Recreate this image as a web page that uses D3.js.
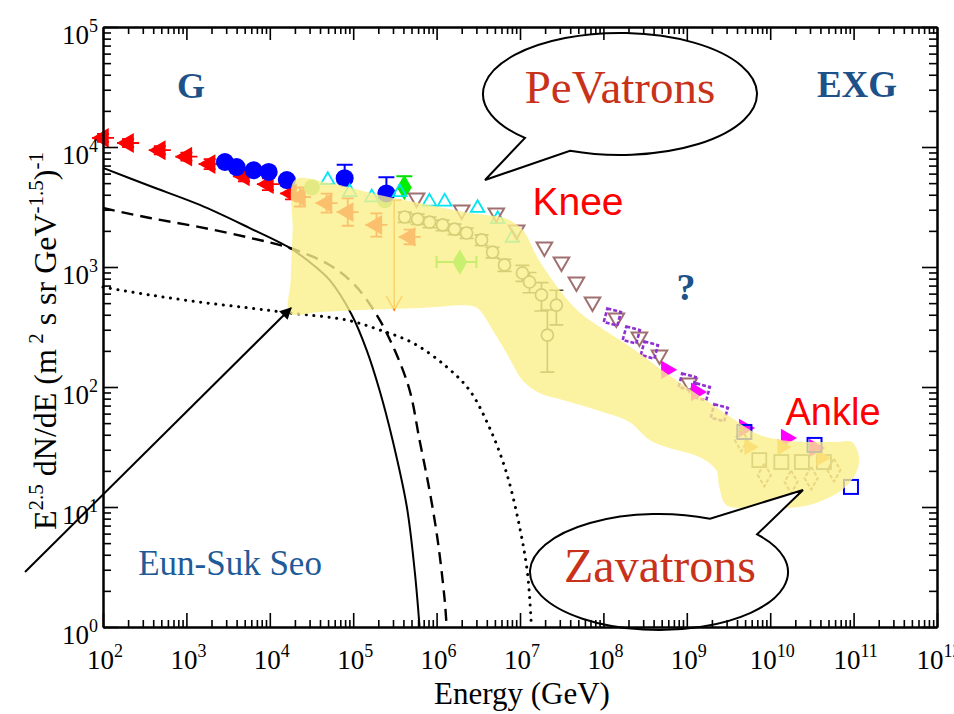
<!DOCTYPE html>
<html>
<head>
<meta charset="utf-8">
<script src="https://cdn.jsdelivr.net/npm/d3@7"></script>
<style>
  body { margin: 0; background: #fff; }
  svg { display: block; }
  .ax .domain { stroke: #000; stroke-width: 2; }
  .ax .tick line { stroke: #000; stroke-width: 1.6; }
</style>
</head>
<body>
<div id="chart"></div>
<script>
// ---- data (energy in GeV, flux E^2.5 dN/dE) ----
var redE = [1.0e2, 2.0e2, 4.8e2, 1.0e3, 1.9e3, 4.9e3, 9.5e3, 1.8e4, 2.3e4, 4.8e4, 8.6e4, 1.9e5, 4.75e5];
var redF = [1.19e4, 1.08e4, 9.4e3, 8.3e3, 7.2e3, 5.7e3, 4.9e3, 4.1e3, 3.83e3, 3.41e3, 2.87e3, 2.24e3, 1.78e3];
var redErr = [0.08, 0.08, 0.08, 0.08, 0.1, 0.1, 0.12, 0.12, 0.2, 0.2, 0.3, 0.25, 0.15];
var limitE = [3.1e5];
var limitF = [3.6e3];
var limitTo = [4.4e2];

var blueE = [2.9e3, 4.0e3, 6.4e3, 9.7e3, 1.6e4, 7.9e4, 2.5e5];
var blueF = [7.5e3, 6.8e3, 6.4e3, 6.2e3, 5.3e3, 5.5e3, 4.1e3];
var blueHi = [null, null, null, null, null, 7.1e3, 5.6e3];

var greenE = [4.1e5, 1.9e6];
var greenF = [4.6e3, 1.1e3];
var greenHi = [5.7e3, null];
var greenXLo = [null, 1.0e6];
var greenXHi = [null, 3.0e6];

var limeE = [3.2e4, 2.4e5];
var limeF = [4.6e3, 3.6e3];

var cyanE = [4.95e4, 9.1e4, 1.67e5, 3.6e5, 8.2e5, 1.25e6, 3.1e6, 5.4e6, 8.1e6];
var cyanF = [5.3e3, 4.2e3, 3.8e3, 4.2e3, 3.5e3, 3.5e3, 3.1e3, 2.5e3, 1.75e3];

var brownE = [5.75e5, 2.0e6, 5.2e6, 9.1e6, 1.96e7, 3.14e7, 4.75e7, 7.4e7, 1.43e8, 2.7e8, 4.7e8, 1.07e9];
var brownF = [3760, 2990, 2820, 2030, 1470, 1100, 750, 511, 376, 261, 185, 108];

var grayE = [4.14e5, 5.92e5, 8.24e5, 1.18e6, 1.64e6, 2.29e6, 3.46e6, 4.69e6, 6.52e6, 1.07e7, 1.3e7, 1.81e7, 2.73e7, 2.13e7];
var grayF = [2610, 2510, 2370, 2240, 2070, 1920, 1680, 1330, 1040, 891, 750, 585, 482, 271];
var grayLo = [2350, 2260, 2130, 2010, 1860, 1730, 1510, 1190, 920, 760, 610, 430, 330, 133];
var grayHi = [2870, 2760, 2610, 2460, 2280, 2110, 1850, 1460, 1160, 1030, 900, 740, 640, 438];

var purpleE = [1.28e8, 2.16e8, 3.56e8, 1.01e9, 1.49e9, 2.45e9];
var purpleF = [383, 271, 203, 110, 91, 61];

var magentaE = [5.7e8, 1.3e9, 4.9e9, 1.56e10, 3.4e10];
var magentaF = [139, 91, 45.5, 37.6, 31];

var squareE = [4.9e9, 3.4e10, 9.3e10];
var squareF = [42.2, 32.9, 14.7];

var ankleSqE = [7.4e9, 1.36e10, 2.4e10, 4.4e10];
var ankleSqF = [24.6, 23.7, 23.7, 23.7];
var ankleDiaE = [4.5e9, 8.5e9, 1.78e10, 3.1e10, 5.8e10];
var ankleDiaF = [36.2, 18.5, 16.2, 17.4, 20.3];
var orangeE = [5.6e9, 1.39e10, 4.1e10];
var orangeF = [31.6, 31.6, 25.6];

// model curves
var solidE = [1e2, 3.66e2, 1.45e3, 5.75e3, 1.74e4, 3.0e4, 5.2e4, 9.6e4, 1.45e5, 2.07e5, 2.97e5, 4.4e5, 5.5e5, 6.25e5];
var solidF = [6700, 4730, 3290, 2110, 1440, 1100, 780, 400, 203, 94, 36, 10, 2.8, 1];
var dashedE = [1e2, 3.66e2, 1.45e3, 5.75e3, 1.74e4, 5.2e4, 1.04e5, 1.91e5, 3.14e5, 4.75e5, 6.25e5, 8.2e5, 1.03e6, 1.25e6, 1.32e6];
var dashedF = [3100, 2560, 2150, 1750, 1440, 1040, 710, 400, 203, 94, 36, 13.9, 5.3, 1.68, 1];
var dottedE = [1e2, 3.66e2, 1.45e3, 5.75e3, 1.74e4, 8.4e4, 2.07e5, 5.2e5, 1.32e6, 2.48e6, 4.3e6, 6.9e6, 9.9e6, 1.23e7, 1.37e7];
var dottedF = [680, 585, 510, 455, 414, 361, 299, 233, 147, 94, 46, 19.2, 6.8, 2.8, 1];

// highlighted (yellow) region outline
var bandE = [1.99e4, 5.24e4, 2.07e5, 8.24e5, 2.48e6, 6.5e6, 9.3e6, 1.13e7, 1.71e7, 3.23e7, 5.16e7, 1.09e8,
    2.48e8, 5.68e8, 1.3e9, 3.51e9, 7.38e9, 1.39e10, 2.93e10, 6.17e10, 9.6e10, 1.16e11, 1.07e11, 7.28e10,
    3.56e10, 1.69e10, 5.61e9, 2.97e9, 2.45e9, 2.25e9, 1.41e9, 6.17e8, 3.56e8, 2.05e8, 8.24e7, 3.23e7,
    1.71e7, 1.07e7, 6.89e6, 4.69e6, 3.27e6, 2.7e6, 6.25e5, 1.2e5, 3.97e4, 1.74e4, 1.78e4, 1.88e4];
var bandF = [5310, 5010, 3980, 3290, 2820, 2560, 2240, 1960, 1120, 600, 420, 290,
    200, 130, 88, 55, 40, 36, 34.8, 34.8, 34.8, 26.1, 19.2, 13.9,
    10.8, 9.8, 9.8, 10.4, 14.7, 20.3, 26.1, 31.0, 36.2, 51.1, 64.3, 78.0,
    89.1, 114, 192, 299, 438, 473, 455, 438, 422, 414, 780, 2030];

var xPowers = [2, 3, 4, 5, 6, 7, 8, 9, 10, 11, 12];
var yPowers = [0, 1, 2, 3, 4, 5];

// ---- drawing ----
var width = 954, height = 714;
var serif = "'Liberation Serif', 'Times New Roman', serif";
var sans = "'Liberation Sans', Arial, sans-serif";

var x = d3.scaleLog().domain([1e2, 1e12]).range([103, 937]);
var y = d3.scaleLog().domain([1, 1e5]).range([627, 27]);

var svg = d3.select('#chart').append('svg')
    .attr('width', width)
    .attr('height', height);

svg.append('rect').attr('width', width).attr('height', height).attr('fill', '#fff');

var zip = function (a, b) {
    return a.map(function (v, i) { return [v, b[i]]; });
};

var plot = svg.append('g');

// curves
var line = d3.line()
    .x(function (d) { return x(d[0]); })
    .y(function (d) { return y(d[1]); })
    .curve(d3.curveCatmullRom.alpha(0.5));

plot.append('path').datum(zip(solidE, solidF))
    .attr('d', line).attr('fill', 'none').attr('stroke', '#000').attr('stroke-width', 2);
plot.append('path').datum(zip(dashedE, dashedF))
    .attr('d', line).attr('fill', 'none').attr('stroke', '#000').attr('stroke-width', 2.4)
    .attr('stroke-dasharray', '12,7');
plot.append('path').datum(zip(dottedE, dottedF))
    .attr('d', line).attr('fill', 'none').attr('stroke', '#000').attr('stroke-width', 3)
    .attr('stroke-linecap', 'round').attr('stroke-dasharray', '0.1,7.5');

var sym = function (type, size) {
    return d3.symbol().type(type).size(size)();
};

// gray open circles with error bars
var grayData = grayE.map(function (e, i) { return { e: e, f: grayF[i], lo: grayLo[i], hi: grayHi[i] }; });
var gg = plot.append('g').attr('stroke', '#4a4a30').attr('stroke-width', 1.7).attr('fill', 'none');
gg.selectAll('.eb').data(grayData).enter().append('path')
    .attr('d', function (d) {
        var cx = x(d.e);
        return 'M' + cx + ',' + y(d.hi) + 'V' + y(d.lo) +
            'M' + (cx - 7) + ',' + y(d.hi) + 'H' + (cx + 7) +
            'M' + (cx - 7) + ',' + y(d.lo) + 'H' + (cx + 7);
    });
gg.selectAll('circle').data(grayData).enter().append('circle')
    .attr('cx', function (d) { return x(d.e); })
    .attr('cy', function (d) { return y(d.f); })
    .attr('r', 6).attr('fill', '#fff');

// red left triangles with error bars
var redData = redE.map(function (e, i) { return { e: e, f: redF[i], err: redErr[i] }; });
var rg = plot.append('g');
rg.selectAll('path.eb').data(redData).enter().append('path')
    .attr('stroke', '#ff0000').attr('stroke-width', 1.8).attr('fill', 'none')
    .attr('d', function (d) {
        var cx = x(d.e), hi = y(d.f * (1 + d.err)), lo = y(d.f / (1 + d.err));
        return 'M' + cx + ',' + hi + 'V' + lo +
            'M' + (cx - 6) + ',' + hi + 'H' + (cx + 6) +
            'M' + (cx - 6) + ',' + lo + 'H' + (cx + 6) +
            'M' + (cx - 11) + ',' + y(d.f) + 'H' + (cx + 11);
    });
rg.selectAll('path.m').data(redData).enter().append('path')
    .attr('d', sym(d3.symbolTriangle, 170))
    .attr('transform', function (d) { return 'translate(' + x(d.e) + ',' + y(d.f) + ') rotate(-90)'; })
    .attr('fill', '#ff0000');
// upper limit arrow
limitE.forEach(function (e, i) {
    var cx = x(e), y0 = y(limitF[i]), y1 = y(limitTo[i]);
    rg.append('path')
        .attr('d', 'M' + cx + ',' + y0 + 'V' + y1 + 'M' + (cx - 8) + ',' + (y1 - 14) + 'L' + cx + ',' + y1 + 'L' + (cx + 8) + ',' + (y1 - 14) +
            'M' + (cx - 7) + ',' + y0 + 'H' + (cx + 7))
        .attr('stroke', '#ff6a00').attr('stroke-width', 1.6).attr('fill', 'none');
});

// lime circles
plot.selectAll('.lime').data(zip(limeE, limeF)).enter().append('circle')
    .attr('cx', function (d) { return x(d[0]); })
    .attr('cy', function (d) { return y(d[1]); })
    .attr('r', 8).attr('fill', '#8ccf6a');

// blue filled circles
var blueData = blueE.map(function (e, i) { return { e: e, f: blueF[i], hi: blueHi[i] }; });
plot.selectAll('.beb').data(blueData.filter(function (d) { return d.hi; })).enter().append('path')
    .attr('d', function (d) {
        var cx = x(d.e);
        return 'M' + cx + ',' + y(d.f) + 'V' + y(d.hi) + 'M' + (cx - 8) + ',' + y(d.hi) + 'H' + (cx + 8);
    })
    .attr('stroke', '#0000ff').attr('stroke-width', 2).attr('fill', 'none');
plot.selectAll('.blue').data(blueData).enter().append('circle')
    .attr('cx', function (d) { return x(d.e); })
    .attr('cy', function (d) { return y(d.f); })
    .attr('r', 9).attr('fill', '#0000ff');

// green diamonds
var greenData = greenE.map(function (e, i) {
    return { e: e, f: greenF[i], hi: greenHi[i], xlo: greenXLo[i], xhi: greenXHi[i] };
});
plot.selectAll('.geb').data(greenData).enter().append('path')
    .attr('d', function (d) {
        var cx = x(d.e), cy = y(d.f), s = '';
        if (d.hi) s += 'M' + cx + ',' + cy + 'V' + y(d.hi) + 'M' + (cx - 8) + ',' + y(d.hi) + 'H' + (cx + 8);
        if (d.xlo) s += 'M' + x(d.xlo) + ',' + cy + 'H' + x(d.xhi) +
            'M' + x(d.xlo) + ',' + (cy - 6) + 'V' + (cy + 6) + 'M' + x(d.xhi) + ',' + (cy - 6) + 'V' + (cy + 6);
        return s;
    })
    .attr('stroke', '#00dd00').attr('stroke-width', 2).attr('fill', 'none');
plot.selectAll('.green').data(greenData).enter().append('path')
    .attr('d', sym(d3.symbolDiamond, 190))
    .attr('transform', function (d) { return 'translate(' + x(d.e) + ',' + y(d.f) + ')'; })
    .attr('fill', '#00ee00');

// cyan open triangles
plot.selectAll('.cyan').data(zip(cyanE, cyanF)).enter().append('path')
    .attr('d', sym(d3.symbolTriangle, 80))
    .attr('transform', function (d) { return 'translate(' + x(d[0]) + ',' + y(d[1]) + ')'; })
    .attr('fill', 'none').attr('stroke', '#00e5f0').attr('stroke-width', 1.8);

// brown open down triangles
plot.selectAll('.brown').data(zip(brownE, brownF)).enter().append('path')
    .attr('d', sym(d3.symbolTriangle, 105))
    .attr('transform', function (d) { return 'translate(' + x(d[0]) + ',' + y(d[1]) + ') rotate(180)'; })
    .attr('fill', 'none').attr('stroke', '#a07070').attr('stroke-width', 2);

// purple dashed squares
plot.selectAll('.purple').data(zip(purpleE, purpleF)).enter().append('rect')
    .attr('x', function (d) { return x(d[0]) - 7; })
    .attr('y', function (d) { return y(d[1]) - 7; })
    .attr('width', 14).attr('height', 14)
    .attr('transform', function (d) { return 'rotate(15,' + x(d[0]) + ',' + y(d[1]) + ')'; })
    .attr('fill', 'none').attr('stroke', '#9030d0').attr('stroke-width', 2.6)
    .attr('stroke-dasharray', '4,2');

// magenta right triangles
plot.selectAll('.magenta').data(zip(magentaE, magentaF)).enter().append('path')
    .attr('d', sym(d3.symbolTriangle, 150))
    .attr('transform', function (d) { return 'translate(' + x(d[0]) + ',' + y(d[1]) + ') rotate(90)'; })
    .attr('fill', '#ff00ff');

// ankle region points
plot.selectAll('.asq').data(zip(ankleSqE, ankleSqF)).enter().append('rect')
    .attr('x', function (d) { return x(d[0]) - 7; })
    .attr('y', function (d) { return y(d[1]) - 7; })
    .attr('width', 14).attr('height', 14)
    .attr('fill', 'none').attr('stroke', '#6c6c55').attr('stroke-width', 1.8);
plot.selectAll('.adia').data(zip(ankleDiaE, ankleDiaF)).enter().append('path')
    .attr('d', sym(d3.symbolDiamond, 150))
    .attr('transform', function (d) { return 'translate(' + x(d[0]) + ',' + y(d[1]) + ')'; })
    .attr('fill', 'none').attr('stroke', '#a07060').attr('stroke-width', 2)
    .attr('stroke-dasharray', '4,2');
plot.selectAll('.orange').data(zip(orangeE, orangeF)).enter().append('path')
    .attr('d', sym(d3.symbolTriangle, 120))
    .attr('transform', function (d) { return 'translate(' + x(d[0]) + ',' + y(d[1]) + ') rotate(90)'; })
    .attr('fill', '#ff9a30');

// blue open squares
plot.selectAll('.sq').data(zip(squareE, squareF)).enter().append('rect')
    .attr('x', function (d) { return x(d[0]) - 7; })
    .attr('y', function (d) { return y(d[1]) - 7; })
    .attr('width', 14).attr('height', 14)
    .attr('fill', 'none').attr('stroke', '#0000ff').attr('stroke-width', 2);

// yellow highlight over the data
var area = d3.line()
    .x(function (d) { return x(d[0]); })
    .y(function (d) { return y(d[1]); })
    .curve(d3.curveCatmullRomClosed.alpha(0.5));
svg.append('path').datum(zip(bandE, bandF))
    .attr('d', area)
    .attr('fill', '#faf08a')
    .attr('fill-opacity', 0.8);

// speech bubbles
var bubble = function (cx, cy, rx, ry, a1, a2, tip, sweep) {
    var p = function (a) {
        var r = a * Math.PI / 180;
        return [cx + rx * Math.cos(r), cy + ry * Math.sin(r)];
    };
    var s = p(a1), e = p(a2);
    svg.append('path')
        .attr('d', 'M' + s[0] + ',' + s[1] + 'A' + rx + ',' + ry + ' 0 1 ' + sweep + ' ' + e[0] + ',' + e[1] +
            'L' + tip[0] + ',' + tip[1] + 'Z')
        .attr('fill', '#fff').attr('stroke', '#000').attr('stroke-width', 2);
};
bubble(620, 94, 137, 61, 111.4, 133.9, [485, 180], 0);
bubble(659, 572, 129, 58, -40.5, -66.7, [803, 490], 1);

// axes (inward ticks)
var xMajor = xPowers.map(function (p) { return Math.pow(10, p); });
var yMajor = yPowers.map(function (p) { return Math.pow(10, p); });
var minors = function (majors) {
    var out = [];
    majors.slice(0, -1).forEach(function (v) {
        for (var k = 2; k < 10; k++) out.push(v * k);
    });
    return out;
};
var xMinor = minors(xMajor);
var yMinor = minors(yMajor);

var addAxis = function (axisFn, scale, vals, size, tr) {
    svg.append('g').attr('class', 'ax').attr('transform', tr)
        .call(axisFn(scale).tickValues(vals).tickSize(size).tickSizeOuter(0).tickFormat(''));
};
addAxis(d3.axisBottom, x, xMinor, -7, 'translate(0,627)');
addAxis(d3.axisBottom, x, xMajor, -14, 'translate(0,627)');
addAxis(d3.axisTop, x, xMinor, -7, 'translate(0,27)');
addAxis(d3.axisTop, x, xMajor, -13, 'translate(0,27)');
addAxis(d3.axisLeft, y, yMinor, -8, 'translate(103,0)');
addAxis(d3.axisLeft, y, yMajor, -15, 'translate(103,0)');
addAxis(d3.axisRight, y, yMinor, -8, 'translate(937,0)');
addAxis(d3.axisRight, y, yMajor, -15, 'translate(937,0)');

// tick labels
var powLabel = function (t, p) {
    t.append('tspan').text('10');
    t.append('tspan').attr('dy', -12).attr('font-size', 18).text(p);
};
xPowers.forEach(function (p) {
    var t = svg.append('text')
        .attr('x', x(Math.pow(10, p)) + 2).attr('y', 669)
        .attr('text-anchor', 'middle')
        .attr('font-family', serif).attr('font-size', 27).attr('fill', '#000');
    powLabel(t, p);
});
yPowers.forEach(function (p) {
    var t = svg.append('text')
        .attr('x', 98).attr('y', y(Math.pow(10, p)) + 17)
        .attr('text-anchor', 'end')
        .attr('font-family', serif).attr('font-size', 27).attr('fill', '#000');
    powLabel(t, p);
});

// axis titles
svg.append('text')
    .attr('x', 522).attr('y', 704)
    .attr('text-anchor', 'middle')
    .attr('font-family', serif).attr('font-size', 31)
    .text('Energy (GeV)');

var yt = svg.append('text')
    .attr('transform', 'translate(56,530) rotate(-90)')
    .attr('font-family', serif).attr('font-size', 32).attr('fill', '#000');
var sup = function (txt) {
    yt.append('tspan').attr('dy', -13).attr('font-size', 21).text(txt);
};
var norm = function (txt) {
    yt.append('tspan').attr('dy', 13).text(txt);
};
yt.append('tspan').text('E');
sup('2.5');
norm(' dN/dE (m');
sup(' 2');
norm(' s sr GeV');
sup('-1.5');
norm(')');
sup('-1');

// annotations
var label = function (txt, px, py, size, color, family, weight) {
    svg.append('text')
        .attr('x', px).attr('y', py)
        .attr('text-anchor', 'middle')
        .attr('font-family', family).attr('font-size', size)
        .attr('font-weight', weight || 'normal')
        .attr('fill', color)
        .text(txt);
};
label('G', 191, 98, 36, '#1d5189', serif, 'bold');
label('EXG', 857, 97, 37, '#1d5189', serif, 'bold');
label('?', 686, 300, 38, '#1d5189', serif, 'bold');
label('Knee', 578, 215, 39, '#ff0000', sans);
label('Ankle', 833, 425, 38, '#ff0000', sans);
label('PeVatrons', 620, 103, 47, '#c8321a', serif);
label('Zavatrons', 660, 582, 48, '#c8321a', serif);
label('Eun-Suk Seo', 230, 575, 35, '#1f5b98', serif);

// arrow pointing at the band
var defs = svg.append('defs');
defs.append('marker')
    .attr('id', 'head')
    .attr('viewBox', '0 0 10 10')
    .attr('refX', 9).attr('refY', 5)
    .attr('markerWidth', 6).attr('markerHeight', 6)
    .attr('orient', 'auto')
    .append('path').attr('d', 'M0,0L10,5L0,10Z').attr('fill', '#000');
svg.append('line')
    .attr('x1', 25).attr('y1', 572)
    .attr('x2', 291).attr('y2', 308)
    .attr('stroke', '#000').attr('stroke-width', 2)
    .attr('marker-end', 'url(#head)');
</script>
</body>
</html>
